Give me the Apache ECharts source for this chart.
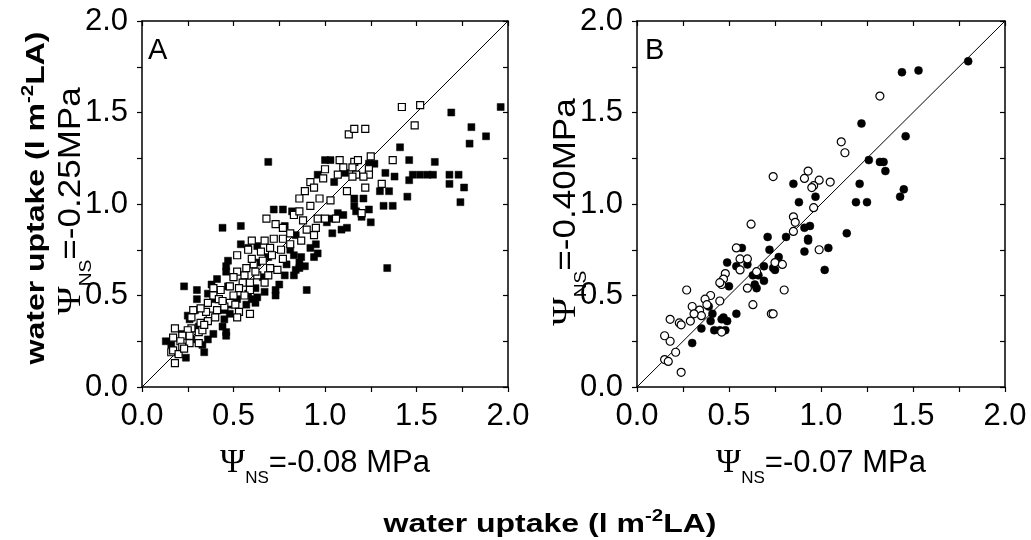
<!DOCTYPE html>
<html lang="en">
<head>
<meta charset="UTF-8">
<title>water uptake</title>
<script src="https://cdn.jsdelivr.net/npm/echarts@6/dist/echarts.min.js"></script>
<style>
  html, body { margin: 0; padding: 0; background: #fff; }
</style>
</head>
<body>
<div id="main" style="width: 1031px;height: 540px;"></div>
<script type="text/javascript">
// panel A : filled / open squares  [x, y]
var aFilled = [
  [1.96,1.53],[1.69,1.50],[1.80,1.42],[1.79,1.33],[1.88,1.37],[1.41,1.31],[1.46,1.24],[1.60,1.23],
  [1.33,1.17],[1.38,1.15],[1.48,1.16],[1.52,1.16],[1.56,1.16],[1.59,1.16],[1.46,1.13],[1.68,1.16],
  [1.73,1.16],[1.68,1.11],[1.76,1.09],[1.74,1.01],[1.45,1.04],[1.30,1.07],[1.35,1.07],[1.32,0.99],
  [1.37,0.99],[1.34,0.65],[1.24,0.97],[1.25,0.90],[1.16,0.99],[1.16,1.03],[1.21,1.03],[1.17,0.96],
  [1.20,0.93],[1.24,1.22],[1.27,1.22],[1.00,1.24],[1.03,1.24],[0.96,1.16],[1.11,1.17],[1.05,1.12],
  [1.07,0.95],[1.10,0.94],[1.04,0.92],[1.09,0.86],[1.12,0.87],[1.04,0.84],[0.69,1.23],[0.44,0.87],
  [0.54,0.88],[0.54,0.78],[0.23,0.55],[0.30,0.53],[0.90,0.53],[0.72,0.97],[0.77,0.97],[0.82,0.96],
  [0.84,0.83],[0.92,0.76],[0.95,0.78],[0.96,0.73],[0.94,0.71],[0.83,0.72],[0.87,0.71],[0.79,0.67],
  [0.86,0.68],[0.86,0.65],[0.84,0.64],[0.83,0.61],[0.78,0.61],[0.75,0.56],[0.73,0.53],[0.73,0.50],
  [0.67,0.52],[0.63,0.77],[0.63,0.68],[0.58,0.76],[0.62,0.46],[0.60,0.48],[0.58,0.51],[0.63,0.49],
  [0.47,0.69],[0.46,0.66],[0.46,0.63],[0.41,0.59],[0.38,0.56],[0.36,0.51],[0.47,0.55],[0.45,0.42],
  [0.48,0.40],[0.47,0.45],[0.45,0.37],[0.44,0.33],[0.46,0.30],[0.46,0.28],[0.39,0.29],[0.36,0.26],
  [0.33,0.23],[0.34,0.19],[0.30,0.48],[0.29,0.42],[0.25,0.39],[0.26,0.37],[0.13,0.25],[0.16,0.23],
  [0.24,0.16],[0.62,0.54],[0.57,0.45],[0.81,0.75],[0.89,0.66],[0.69,0.71],[0.52,0.48],[0.40,0.48],
  [0.31,0.33],[0.22,0.29],[0.27,0.26],[0.50,0.60],[1.01,0.90],[0.78,0.88],[0.66,0.60]
];
var aOpen = [
  [1.13,1.38],[1.16,1.41],[1.22,1.41],[1.42,1.53],[1.52,1.54],[1.49,1.43],[1.37,1.24],[1.31,1.11],
  [1.25,1.26],[1.24,1.19],[1.24,1.16],[1.22,1.09],[1.20,0.95],[1.16,1.23],[1.18,1.24],[1.15,1.20],
  [1.17,1.16],[1.21,1.15],[1.15,1.15],[1.08,1.24],[1.10,1.20],[1.07,1.16],[1.12,1.07],[1.00,1.19],
  [0.99,1.14],[0.92,1.12],[0.89,1.07],[0.86,1.03],[0.94,1.09],[0.97,1.03],[1.03,1.02],[0.92,0.99],
  [0.83,0.94],[0.86,0.96],[0.88,0.91],[0.96,0.92],[1.00,0.92],[1.06,0.92],[0.90,0.86],[0.95,0.87],
  [0.94,0.83],[0.87,0.80],[0.81,0.84],[0.77,0.87],[0.68,0.92],[0.73,0.89],[0.81,0.78],[0.77,0.81],
  [0.72,0.81],[0.67,0.80],[0.60,0.80],[0.58,0.75],[0.65,0.74],[0.70,0.76],[0.76,0.75],[0.77,0.70],
  [0.70,0.65],[0.74,0.64],[0.69,0.61],[0.67,0.57],[0.66,0.69],[0.61,0.67],[0.57,0.65],[0.60,0.70],
  [0.52,0.72],[0.52,0.63],[0.56,0.61],[0.63,0.61],[0.59,0.57],[0.55,0.57],[0.50,0.60],[0.48,0.55],
  [0.53,0.54],[0.59,0.53],[0.56,0.50],[0.50,0.50],[0.43,0.53],[0.39,0.54],[0.39,0.50],[0.36,0.46],
  [0.42,0.48],[0.48,0.46],[0.51,0.45],[0.53,0.41],[0.52,0.38],[0.59,0.40],[0.41,0.42],[0.37,0.39],
  [0.35,0.41],[0.32,0.43],[0.28,0.42],[0.27,0.38],[0.32,0.35],[0.36,0.36],[0.40,0.38],[0.31,0.30],
  [0.33,0.31],[0.27,0.32],[0.25,0.31],[0.26,0.28],[0.22,0.28],[0.18,0.32],[0.17,0.27],[0.21,0.25],
  [0.16,0.19],[0.17,0.20],[0.22,0.22],[0.26,0.24],[0.18,0.13],[0.20,0.18],[0.31,0.24],[0.45,0.44],
  [0.62,0.63],[0.71,0.72],[0.44,0.47],[0.34,0.34],[0.23,0.21]
];
// panel B : filled / open circles  [x, y]
var bFilled = [
  [1.80,1.78],[1.44,1.72],[1.53,1.73],[1.22,1.44],[1.46,1.37],[1.26,1.24],[1.32,1.23],[1.34,1.23],
  [1.35,1.18],[1.21,1.11],[1.45,1.08],[1.43,1.04],[1.19,1.01],[1.25,1.01],[1.14,0.84],[1.04,0.76],
  [1.02,0.64],[0.85,1.11],[0.88,1.01],[0.97,1.04],[0.91,0.87],[0.94,0.88],[0.93,0.81],[0.93,0.80],
  [0.91,0.74],[0.81,0.82],[0.71,0.82],[0.72,0.75],[0.77,0.71],[0.75,0.64],[0.74,0.65],[0.69,0.66],
  [0.69,0.58],[0.66,0.61],[0.65,0.54],[0.64,0.56],[0.63,0.61],[0.60,0.67],[0.54,0.66],[0.57,0.76],
  [0.49,0.68],[0.50,0.55],[0.54,0.40],[0.46,0.37],[0.47,0.38],[0.49,0.36],[0.48,0.31],[0.45,0.31],
  [0.42,0.31],[0.40,0.36],[0.41,0.40],[0.39,0.44],[0.35,0.32],[0.30,0.24]
];
var bOpen = [
  [1.32,1.59],[1.11,1.34],[1.13,1.28],[0.93,1.18],[0.91,1.14],[0.99,1.13],[0.96,1.10],[0.95,1.09],
  [1.05,1.12],[0.74,1.15],[0.96,0.98],[0.85,0.93],[0.86,0.90],[0.85,0.85],[0.62,0.89],[0.99,0.75],
  [0.54,0.76],[0.56,0.70],[0.56,0.64],[0.60,0.70],[0.75,0.68],[0.79,0.67],[0.65,0.63],[0.60,0.54],
  [0.80,0.53],[0.63,0.45],[0.73,0.40],[0.74,0.40],[0.48,0.62],[0.47,0.59],[0.46,0.56],[0.45,0.57],
  [0.45,0.47],[0.40,0.50],[0.37,0.48],[0.38,0.45],[0.34,0.42],[0.35,0.39],[0.30,0.44],[0.31,0.40],
  [0.29,0.36],[0.27,0.53],[0.23,0.35],[0.24,0.34],[0.18,0.37],[0.18,0.25],[0.15,0.28],[0.21,0.19],
  [0.15,0.15],[0.17,0.14],[0.24,0.08],[0.46,0.30]
];
var oneToOne = [[0, 0], [2, 2]];
var tickValues = ['0.0', '0.5', '1.0', '1.5', '2.0'];

var font = 'Liberation Sans, Arial, sans-serif';
var serif = 'Liberation Serif, Times New Roman, serif';

var nameRich = {
  psi: { fontFamily: serif, fontSize: 34, lineHeight: 30, color: '#000', fill: '#000' },
  sub: { fontFamily: font, fontSize: 17, lineHeight: 18, padding: [30, 0, 0, 0], color: '#000', fill: '#000' },
  t: { fontFamily: font, fontSize: 31, lineHeight: 30, color: '#000', fill: '#000' }
};
var boldRich = {
  t: { fontFamily: font, fontSize: 25, fontWeight: 'bold', lineHeight: 30, fill: '#000' },
  sup: { fontFamily: font, fontSize: 16, fontWeight: 'bold', lineHeight: 16, padding: [0, 0, 16, 0], fill: '#000' }
};

function axisBase(pos, gridIndex, showLabel) {
  return {
    type: 'value', gridIndex: gridIndex, position: pos,
    min: 0, max: 2, interval: 0.5,
    nameMoveOverlap: false,
    axisLine: { show: true, onZero: false, lineStyle: { color: '#000', width: 1.5 } },
    axisTick: { show: true, inside: !showLabel, length: 5, lineStyle: { color: '#000', width: 1.2 } },
    minorTick: { show: true, splitNumber: 2, length: 5, lineStyle: { color: '#000', width: 1.2 } },
    splitLine: { show: false },
    axisLabel: {
      show: showLabel, fontFamily: font, fontSize: 31, color: '#000',
      margin: 14,
      formatter: function (v) { return tickValues[Math.round(v / 0.5)]; }
    }
  };
}

function psiName(p) {
  return '{psi|Ψ}{sub|NS}{t|=' + p + '}';
}

function withName(ax, text, gap) {
  ax.name = text;
  ax.nameLocation = 'middle';
  ax.nameGap = gap;
  ax.nameTextStyle = { rich: nameRich };
  return ax;
}

// rotated y names are a bit stretched along their length in the original figure
function yName(x, y, text) {
  return {
    type: 'text', x: x, y: y, rotation: Math.PI / 2, scaleX: 1.13,
    style: { text: text, rich: nameRich, align: 'center', verticalAlign: 'middle' }
  };
}

var xA = withName(axisBase('bottom', 0, true), psiName('-0.08 MPa'), 61);
var xB = withName(axisBase('bottom', 1, true), psiName('-0.07 MPa'), 61);

var titleText = '{t|water uptake (l m}{sup|-2}{t|LA)}';

var myChart = echarts.init(document.getElementById('main'));
myChart.setOption({
  animation: false,
  backgroundColor: '#fff',
  grid: [
    { left: 142, top: 21, width: 366, height: 366 },
    { left: 637, top: 21, width: 368, height: 366 }
  ],
  xAxis: [xA, axisBase('top', 0, false), xB, axisBase('top', 1, false)],
  yAxis: [axisBase('left', 0, true), axisBase('right', 0, false), axisBase('left', 1, true), axisBase('right', 1, false)],
  graphic: [
    { type: 'text', left: 148, top: 36, style: { text: 'A', fontFamily: font, fontSize: 29, fill: '#000' } },
    { type: 'text', left: 645, top: 36, style: { text: 'B', fontFamily: font, fontSize: 29, fill: '#000' } },
    yName(71, 201, psiName('-0.25MPa')),
    yName(566, 212, psiName('-0.40MPa')),
    {
      type: 'text', x: 37, y: 198, rotation: Math.PI / 2, scaleX: 1.28,
      style: { text: titleText, rich: boldRich, align: 'center', verticalAlign: 'middle' }
    },
    {
      type: 'text', x: 550, y: 525, scaleX: 1.28,
      style: { text: titleText, rich: boldRich, align: 'center', verticalAlign: 'middle' }
    }
  ],
  series: [
    { type: 'line', xAxisIndex: 0, yAxisIndex: 0, data: oneToOne, symbol: 'none', lineStyle: { color: '#000', width: 1 }, z: 1 },
    { type: 'line', xAxisIndex: 2, yAxisIndex: 2, data: oneToOne, symbol: 'none', lineStyle: { color: '#000', width: 1 }, z: 1 },
    { type: 'scatter', xAxisIndex: 0, yAxisIndex: 0, data: aFilled, symbol: 'rect', symbolSize: 7,
      itemStyle: { color: '#000', borderColor: '#000', borderWidth: 0.5, opacity: 1 }, z: 2 },
    { type: 'scatter', xAxisIndex: 0, yAxisIndex: 0, data: aOpen, symbol: 'rect', symbolSize: 7,
      itemStyle: { color: '#fff', borderColor: '#000', borderWidth: 1.2, opacity: 1 }, z: 3 },
    { type: 'scatter', xAxisIndex: 2, yAxisIndex: 2, data: bFilled, symbol: 'circle', symbolSize: 8,
      itemStyle: { color: '#000', borderColor: '#000', borderWidth: 0.5, opacity: 1 }, z: 2 },
    { type: 'scatter', xAxisIndex: 2, yAxisIndex: 2, data: bOpen, symbol: 'circle', symbolSize: 8,
      itemStyle: { color: '#fff', borderColor: '#000', borderWidth: 1.2, opacity: 1 }, z: 3 }
  ]
});
</script>
</body>
</html>
